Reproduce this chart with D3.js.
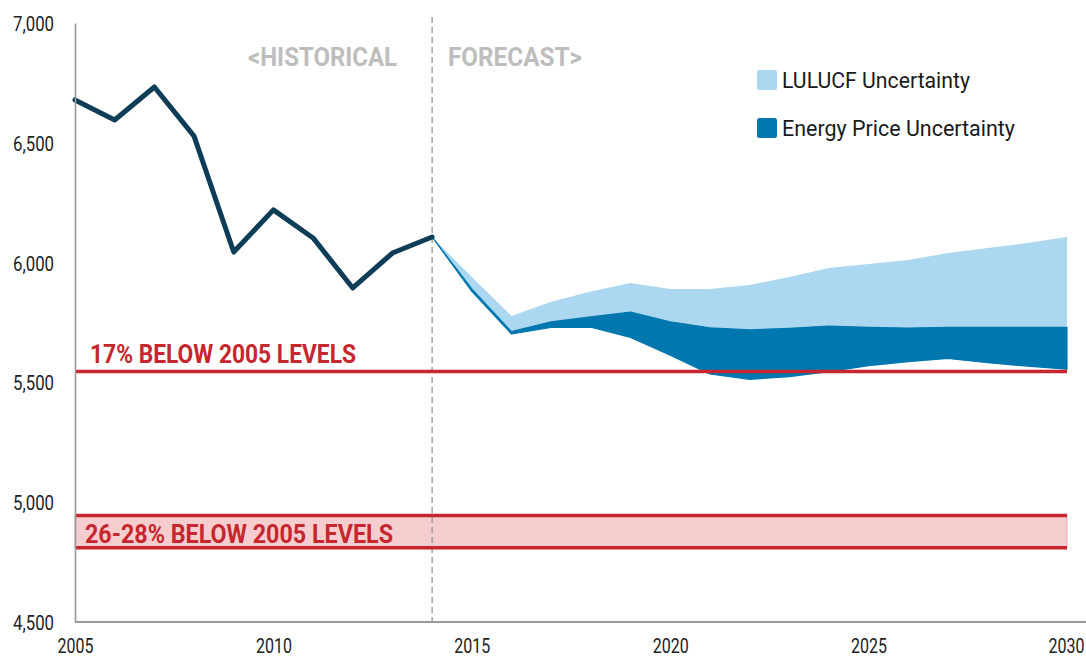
<!DOCTYPE html>
<html><head><meta charset="utf-8">
<script src="https://cdn.jsdelivr.net/npm/d3@7"></script>
<style>
html,body{margin:0;padding:0;background:#fff;}
svg{display:block;font-family:Roboto,"Noto Sans",sans-serif;}
</style></head>
<body>
<svg id="chart" width="1086" height="658"></svg>
<script>
// ---- data ----
const histYears = [2005,2006,2007,2008,2009,2010,2011,2012,2013,2014];
const histValues = [6679,6595,6733,6528,6044,6220,6103,5894,6040,6107];

const fcYears = [2014,2015,2016,2017,2018,2019,2020,2021,2022,2023,2024,2025,2026,2027,2028,2029,2030];
const luluHigh   = [6107,5940,5777,5837,5879,5915,5890,5890,5907,5940,5977,5994,6011,6040,6061,6082,6107];
const energyHigh = [6107,5890,5712,5753,5774,5793,5753,5728,5719,5726,5735,5730,5727,5730,5730,5730,5730];
const energyLow  = [6107,5880,5702,5730,5730,5688,5614,5535,5513,5524,5545,5570,5587,5600,5582,5568,5555];

const target17 = 5545;
const targetBand = [4810, 4945];

const yTicks = [4500,5000,5500,6000,6500,7000];
const xTicks = [2005,2010,2015,2020,2025,2030];
const splitYear = 2014;

const legendLabels = ["LULUCF Uncertainty","Energy Price Uncertainty"];
const phaseLabels = ["<HISTORICAL","FORECAST>"];
const targetLabels = ["17% BELOW 2005 LEVELS","26-28% BELOW 2005 LEVELS"];

// ---- styles ----
const C = {hist:"#0d3d57", lulu:"#acd7f0", energy:"#0077ae", red:"#c6262d", band:"#f5cdcf", axis:"#999", phase:"#bdbdbd", text:"#222"};

const W = 1086, H = 658;
const m = {left:75, right:19, top:23, bottom:36};
const svg = d3.select("#chart");
const x = d3.scaleLinear().domain([2005,2030]).range([m.left, W - m.right]);
const y = d3.scaleLinear().domain([4500,7000]).range([H - m.bottom, m.top]);

function fitWidth(sel, width){
  sel.attr("textLength", width).attr("lengthAdjust","spacingAndGlyphs");
}

// band
svg.append("rect")
  .attr("x", x(2005)).attr("width", x(2030)-x(2005))
  .attr("y", y(targetBand[1])).attr("height", y(targetBand[0]) - y(targetBand[1]))
  .attr("fill", C.band).attr("stroke","#e9a9ac").attr("stroke-width",1);

// areas
const fc = fcYears.map((yr,i)=>({yr, lh:luluHigh[i], eh:energyHigh[i], el:energyLow[i]}));
svg.append("path").datum(fc)
  .attr("fill", C.lulu)
  .attr("d", d3.area().x(d=>x(d.yr)).y0(d=>y(d.el)).y1(d=>y(d.lh)));
svg.append("path").datum(fc)
  .attr("fill", C.energy).attr("stroke", C.energy).attr("stroke-width",1.2).attr("stroke-linejoin","round")
  .attr("d", d3.area().x(d=>x(d.yr)).y0(d=>y(d.el)).y1(d=>y(d.eh)));

// dashed split
svg.append("line")
  .attr("x1", x(splitYear)).attr("x2", x(splitYear))
  .attr("y1", m.top - 6).attr("y2", y(4500))
  .attr("stroke", "#9a9a9a").attr("stroke-width",1.4).attr("stroke-dasharray","6,4");

// red lines
[target17, targetBand[0], targetBand[1]].forEach(v=>{
  svg.append("line")
    .attr("x1", x(2005)).attr("x2", x(2030))
    .attr("y1", y(v)).attr("y2", y(v))
    .attr("stroke", C.red).attr("stroke-width", 3.5);
});

// historical line
svg.append("path").datum(histYears.map((yr,i)=>[yr,histValues[i]]))
  .attr("fill","none").attr("stroke", C.hist).attr("stroke-width",5)
  .attr("stroke-linejoin","round").attr("stroke-linecap","round")
  .attr("d", d3.line().x(d=>x(d[0])).y(d=>y(d[1])));

// axes (condensed look via horizontal scaling)
const SX = 0.8;
const yAxis = svg.append("g").attr("transform",`translate(${m.left},0)`)
  .call(d3.axisLeft(y).tickValues(yTicks).tickFormat(d3.format(",")).tickSize(0).tickPadding(21));
yAxis.select(".domain").attr("stroke", C.axis).attr("stroke-width",1.6);
yAxis.selectAll("text").attr("font-size",21).attr("font-family","Roboto").attr("fill",C.text).attr("dy","0.36em")
  .attr("x", -21/SX).attr("transform",`scale(${SX},1)`);

const xAxis = svg.append("g").attr("transform",`translate(0,${y(4500)})`)
  .call(d3.axisBottom(x).tickValues(xTicks).tickFormat(d3.format("d")).tickSize(0).tickPadding(31));
xAxis.select(".domain").attr("stroke", C.axis).attr("stroke-width",2)
  .attr("d", `M${x(2005)},0H${W}`);
xAxis.selectAll("text").attr("font-size",20).attr("font-family","Roboto").attr("fill",C.text).attr("dy","0")
  .attr("transform",`scale(${SX},1)`);
// keep the last label inside the frame
xAxis.selectAll(".tick").filter(d=>d===2030).select("text")
  .attr("text-anchor","end").attr("x", (W - 2 - x(2030))/SX);

// phase labels
const phase = svg.append("g").attr("font-weight","bold").attr("font-size",25).attr("fill",C.phase);
fitWidth(phase.append("text").attr("x",248).attr("y",66).text(phaseLabels[0]), 149);
fitWidth(phase.append("text").attr("x",448).attr("y",66).text(phaseLabels[1]), 134);

// target labels
const tl = svg.append("g").attr("font-weight","bold").attr("font-size",26).attr("fill",C.red);
fitWidth(tl.append("text").attr("x",90).attr("y",y(target17)-9).text(targetLabels[0]), 266);
fitWidth(tl.append("text").attr("x",85).attr("y",y(targetBand[0])-5).text(targetLabels[1]), 308);

// legend
const legColors = [C.lulu, C.energy];
const legW = [188, 233];
const lg = svg.append("g");
legendLabels.forEach((t,i)=>{
  const gy = 70 + i*48;
  lg.append("rect").attr("x",757).attr("y",gy).attr("width",20).attr("height",20).attr("rx",2.5).attr("fill",legColors[i]);
  fitWidth(lg.append("text").attr("x",782).attr("y",gy+18).attr("font-size",22).attr("fill","#1a1a1a").text(t), legW[i]);
});
</script>
</body></html>
